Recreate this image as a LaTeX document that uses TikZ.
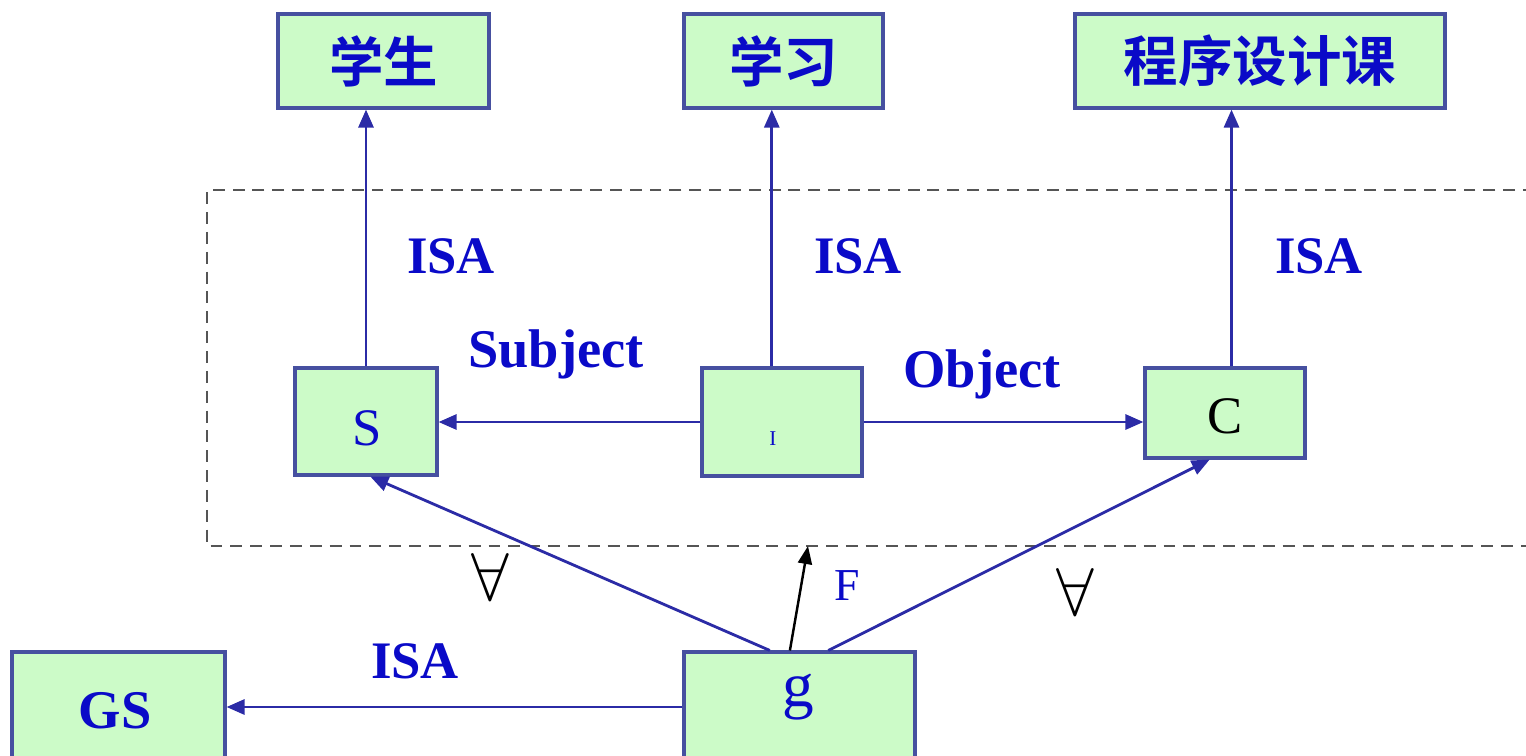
\documentclass[tikz,border=0pt]{standalone}
\usepackage{fontspec}
\usepackage{graphicx}
\setmainfont{Liberation Serif}
\newfontfamily\cjk{Noto Sans CJK SC}[BoldFont={Noto Sans CJK SC Bold}]
\usetikzlibrary{arrows.meta,calc}
\definecolor{boxfill}{HTML}{CCFBC8}
\definecolor{boxline}{HTML}{4650A0}
\definecolor{arrc}{HTML}{2B2BA6}
\definecolor{txtblue}{HTML}{0A0AC8}
\definecolor{dashc}{HTML}{555555}
\tikzset{
  box/.style={draw=boxline,fill=boxfill,line width=1.8pt,inner sep=0pt},
  arr/.style={draw=arrc,line width=1.6pt,-{Triangle[length=0.36cm,width=0.3cm]}},
  blackarr/.style={draw=black,line width=1.4pt,-{Triangle[length=0.36cm,width=0.28cm]}},
  lab/.style={text=txtblue,font=\fontsize{30}{36}\selectfont\bfseries,anchor=base,inner sep=0pt},
  biglab/.style={text=txtblue,font=\fontsize{31}{36}\selectfont\bfseries,anchor=base,inner sep=0pt},
  cjklab/.style={text=txtblue,font=\fontsize{31}{36}\selectfont\cjk\bfseries},
  plain/.style={anchor=base,inner sep=0pt},
  forall/.style={anchor=base,inner sep=0pt,font=\fontsize{24.88}{30}\selectfont},
  dashbox/.style={draw=dashc,line width=1.2pt,dash pattern=on 6.8pt off 4.5pt}
}
\begin{document}
\begin{tikzpicture}[x=0.02cm,y=-0.02cm]
\useasboundingbox (0,0) rectangle (1526,755);
\clip (0,0) rectangle (1526,755);
% dashed frame
\draw[dashbox] (1535,190) -- (207,190) -- (207,546) -- (1535,546);
% top boxes
\node[box,cjklab,minimum width=4.22cm,minimum height=1.88cm] (xs) at (383.5,61) {学生};
\node[box,cjklab,minimum width=3.98cm,minimum height=1.88cm] (xx) at (783.5,61) {学习};
\node[box,cjklab,minimum width=7.4cm,minimum height=1.88cm] (cx) at (1260,61) {程序设计课};
% middle boxes
\node[box,minimum width=2.84cm,minimum height=2.14cm] (S) at (366,421.5) {};
\node[box,minimum width=3.2cm,minimum height=2.16cm] (I) at (782,422) {};
\node[box,minimum width=3.2cm,minimum height=1.8cm] (C) at (1225,413) {};
% bottom boxes
\node[box,minimum width=4.26cm,minimum height=2.36cm] (GS) at (118.5,711) {};
\node[box,minimum width=4.62cm,minimum height=2.36cm] (g) at (799.5,711) {};
% box texts
\node[plain,text=txtblue,font=\fontsize{30}{36}\selectfont] (tS) at (367,445) {S};
\node[plain,text=txtblue,font=\fontsize{12}{14}\selectfont] (tI) at (773,445) {I};
\node[plain,text=black,font=\fontsize{30}{36}\selectfont] (tC) at (1225,433) {C};
\node[plain,text=txtblue,font=\fontsize{36}{40}\selectfont] (tg) at (798,706) {g};
\node[biglab] (tGS) at (115,728) {GS};
% connectors
\draw[arr] (S.north) -- (S.north |- xs.south);
\coordinate (Itop) at ($(I.north west)!0.4375!(I.north east)$);
\draw[arr] (Itop) -- (Itop |- xx.south);
\coordinate (Ctop) at ($(C.north west)!0.54!(C.north east)$);
\draw[arr] (Ctop) -- (Ctop |- cx.south);
\draw[arr] (I.west) -- (I.west -| S.east);
\draw[arr] (I.east) -- (I.east -| C.west);
\coordinate (g1) at ($(g.north west)!0.373!(g.north east)$);
\coordinate (g2) at ($(g.north west)!0.459!(g.north east)$);
\coordinate (g3) at ($(g.north west)!0.623!(g.north east)$);
\coordinate (Sb) at ($(S.south west)!0.53!(S.south east)$);
\coordinate (Cb) at ($(C.south west)!0.406!(C.south east)$);
\coordinate (fend) at (808,546);
\draw[arr] (g1) -- (Sb);
\draw[arr] (g3) -- (Cb);
\draw[blackarr] (g2) -- (fend);
\draw[arr] (g.west |- 0,707) -- (GS.east |- 0,707);
% labels
\node[lab] (isa1) at (451,273) {ISA};
\node[lab] (isa2) at (858,273) {ISA};
\node[lab] (isa3) at (1319,273) {ISA};
\node[lab] (isa4) at (415,678) {ISA};
\node[biglab] (subj) at (556,367) {Subject};
\node[biglab] (obj) at (982,387) {Object};
\node[plain,text=txtblue,font=\fontsize{26}{30}\selectfont] (F) at (847,600) {F};
\node[forall] (fa1) at (490,600) {\scalebox{1.55}{$\forall$}};
\node[forall] (fa2) at (1075,615) {\scalebox{1.55}{$\forall$}};
\end{tikzpicture}
\end{document}
